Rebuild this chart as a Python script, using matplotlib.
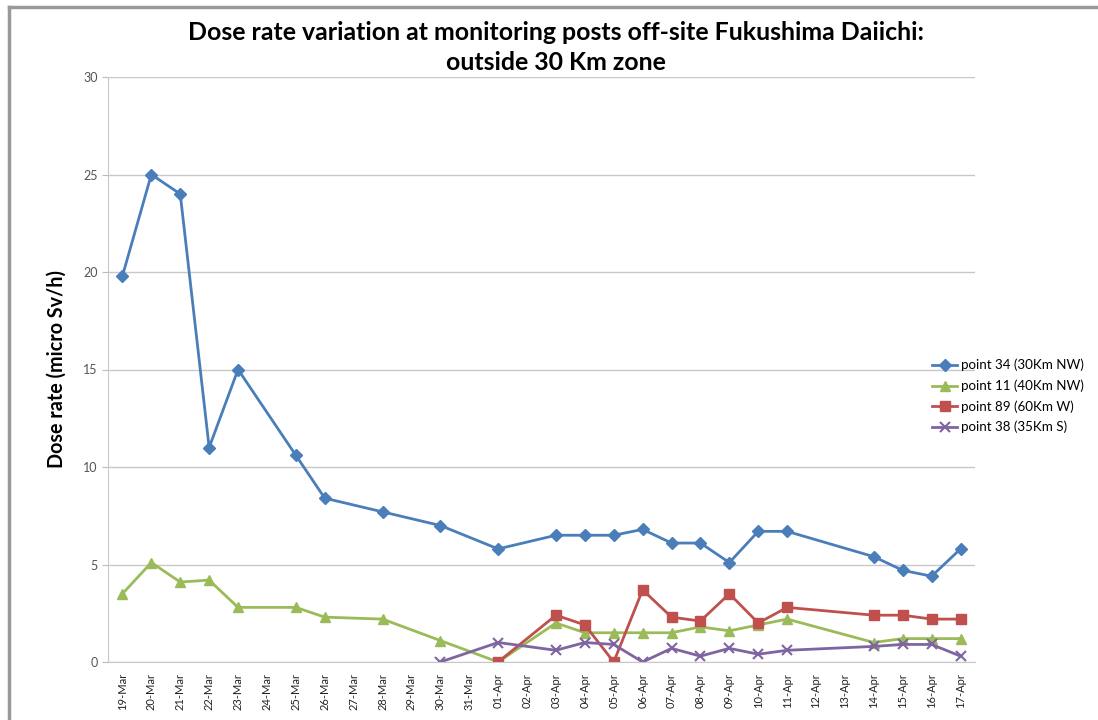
import numpy as np
import matplotlib
matplotlib.use("Agg")
import matplotlib.pyplot as plt
from matplotlib.lines import Line2D

plt.rcParams['font.family'] = ['Lato', 'DejaVu Sans']

nan = np.nan
#%% data
dates = ["19-Mar", "20-Mar", "21-Mar", "22-Mar", "23-Mar", "24-Mar", "25-Mar",
         "26-Mar", "27-Mar", "28-Mar", "29-Mar", "30-Mar", "31-Mar",
         "01-Apr", "02-Apr", "03-Apr", "04-Apr", "05-Apr", "06-Apr", "07-Apr",
         "08-Apr", "09-Apr", "10-Apr", "11-Apr", "12-Apr", "13-Apr", "14-Apr",
         "15-Apr", "16-Apr", "17-Apr"]

p34 = [19.8, 25.0, 24.0, 11.0, 15.0, nan, 10.6, 8.4, nan, 7.7, nan, 7.0, nan,
       5.8, nan, 6.5, 6.5, 6.5, 6.8, 6.1, 6.1, 5.1, 6.7, 6.7, nan, nan, 5.4,
       4.7, 4.4, 5.8]
p11 = [3.5, 5.1, 4.1, 4.2, 2.8, nan, 2.8, 2.3, nan, 2.2, nan, 1.1, nan,
       0.0, nan, 2.0, 1.5, 1.5, 1.5, 1.5, 1.8, 1.6, 1.9, 2.2, nan, nan, 1.0,
       1.2, 1.2, 1.2]
p89 = [nan, nan, nan, nan, nan, nan, nan, nan, nan, nan, nan, nan, nan,
       0.0, nan, 2.4, 1.9, 0.0, 3.7, 2.3, 2.1, 3.5, 2.0, 2.8, nan, nan, 2.4,
       2.4, 2.2, 2.2]
p38 = [nan, nan, nan, nan, nan, nan, nan, nan, nan, nan, nan, 0.0, nan,
       1.0, nan, 0.6, 1.0, 0.9, 0.0, 0.7, 0.3, 0.7, 0.4, 0.6, nan, nan, 0.8,
       0.9, 0.9, 0.3]

series = [(p34, "point 34 (30Km NW)", "#4a7ebb", "D", 6),
          (p11, "point 11 (40Km NW)", "#9bbb59", "^", 7),
          (p89, "point 89 (60Km W)", "#c0504d", "s", 7),
          (p38, "point 38 (35Km S)", "#8064a2", "x", 7)]

W, H = 1098, 720

def fit_width(txt, target_px, vertical=False):
    # rescale a text so its rendered length matches the reference in pixels
    r = fig.canvas.get_renderer()
    bb = txt.get_window_extent(renderer=r)
    cur = bb.height if vertical else bb.width
    txt.set_fontsize(txt.get_fontsize() * target_px / cur)

#%% figure
fig = plt.figure(figsize=(W/100, H/100), dpi=100)
ax = fig.add_axes([108/W, 58/H, (975-108)/W, (662-77)/H])

x = np.arange(len(dates))
for vals, lab, col, mk, ms in series:
    v = np.array(vals, dtype=float)
    ok = ~np.isnan(v)  # connect across the days with no reading
    ax.plot(x[ok], v[ok], color=col, lw=2, marker=mk, ms=ms,
            mew=1.5 if mk == "x" else 1, label=lab)

ax.set_xlim(-0.5, len(dates) - 0.5)
ax.set_ylim(0, 30)
ax.set_yticks(np.arange(0, 31, 5))
ax.set_xticks(x)
ax.set_xticklabels(dates, rotation=90, fontsize=9, color="#222222")
ax.tick_params(axis="y", labelsize=9, colors="#555555", length=4, color="#bbbbbb")
ax.tick_params(axis="x", length=0, pad=8)
ax.grid(axis="y", color="#c8c8c8", lw=1)
ax.set_axisbelow(True)
for s in ["top", "right"]:
    ax.spines[s].set_visible(False)
ax.spines["left"].set_color("#c8c8c8")
ax.spines["bottom"].set_color("#c8c8c8")
yl = ax.set_ylabel("Dose rate (micro Sv/h)", fontsize=11, fontweight="bold", labelpad=12)

t1 = fig.text(556/W, 1 - 33/H, "Dose rate variation at monitoring posts off-site Fukushima Daiichi:",
              ha="center", va="center", fontsize=14.5, fontweight="bold")
t2 = fig.text(556/W, 1 - 63/H, "outside 30 Km zone",
              ha="center", va="center", fontsize=14.5, fontweight="bold")

fig.canvas.draw()
fit_width(t1, 737)
t2.set_fontsize(t1.get_fontsize())
fit_width(yl, 197, vertical=True)
fit_width(ax.get_xticklabels()[0], 37, vertical=True)
for lb in ax.get_xticklabels():
    lb.set_fontsize(ax.get_xticklabels()[0].get_fontsize())

leg = fig.legend(loc="center left", bbox_to_anchor=(926/W, 1 - 396/H), frameon=False,
                 fontsize=9, handlelength=2.0, labelspacing=0.65, handletextpad=0.3,
                 borderpad=0)
fig.canvas.draw()
fit_width(leg.get_texts()[0], 124)
for tx in leg.get_texts():
    tx.set_fontsize(leg.get_texts()[0].get_fontsize())

# chart area border (cropped at right and bottom)
fig.add_artist(Line2D([9/W, 1], [1 - 7/H, 1 - 7/H], color="#999999", lw=2.5))
fig.add_artist(Line2D([9/W, 9/W], [0, 1 - 7/H], color="#999999", lw=2.5))

fig.savefig("out.png", dpi=100)
